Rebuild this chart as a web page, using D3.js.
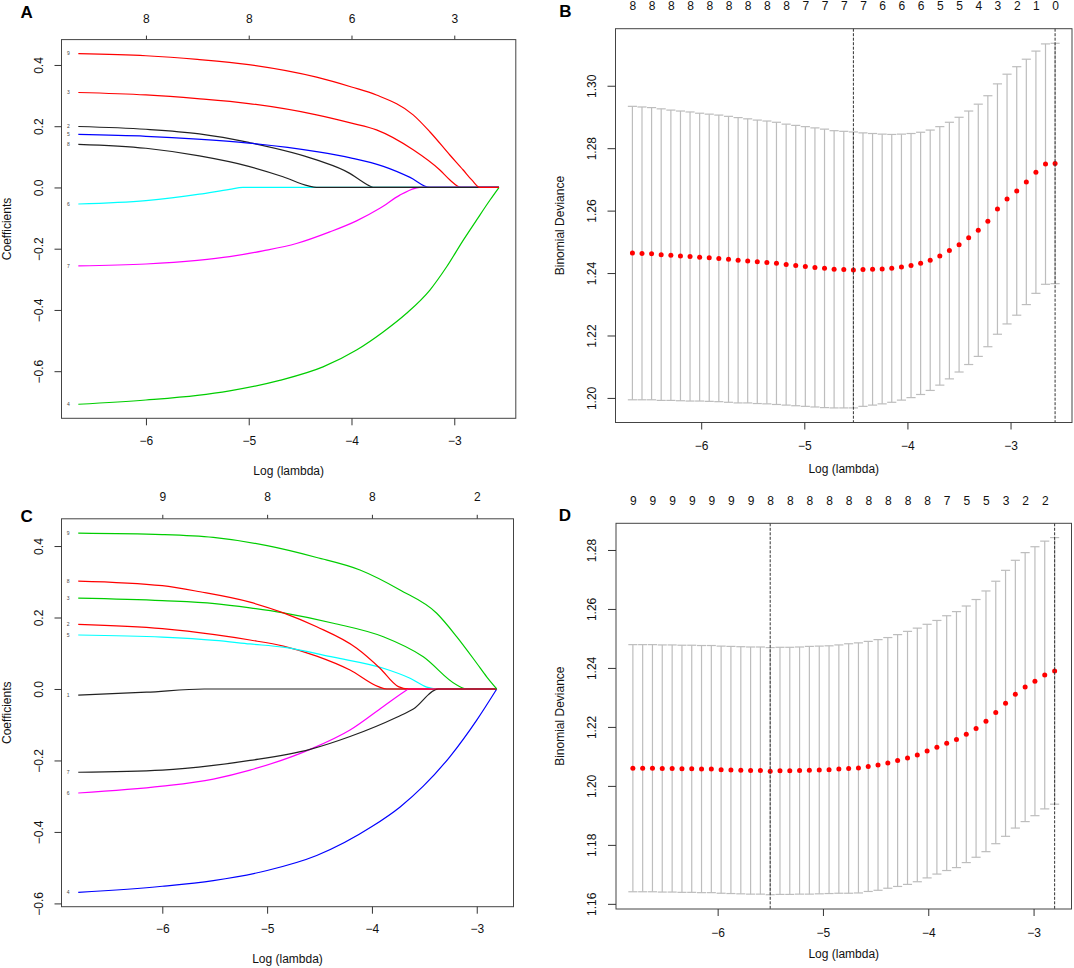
<!DOCTYPE html>
<html>
<head>
<meta charset="utf-8">
<script src="https://cdn.jsdelivr.net/npm/d3@7"></script>
<style>
  body { margin: 0; background: #fff; }
  svg { display: block; }
</style>
</head>
<body>
<svg width="1074" height="968"></svg>
<script>
// ---- Panel A: coefficient paths, [log(lambda), coefficient] ----
const a2 = [[-6.658,0.199],[-6,0.190],[-5.48,0.175],[-5,0.147],[-4.34,0.090],[-4.017,0.046],[-3.919,0.0245],[-3.77,0],[-2.565,0]];
const a3 = [[-6.658,0.310],[-6,0.302],[-5.5,0.290],[-5,0.274],[-4.34,0.237],[-4,0.210],[-3.757,0.188],[-3.4,0.123],[-3.14,0.057],[-3.042,0.0245],[-2.935,0],[-2.565,0]];
const a4 = [[-6.658,-0.708],[-6,-0.694],[-5.5,-0.679],[-5.186,-0.664],[-4.699,-0.630],[-4.277,-0.586],[-3.951,-0.531],[-3.692,-0.472],[-3.464,-0.411],[-3.237,-0.335],[-3.074,-0.259],[-2.912,-0.172],[-2.782,-0.106],[-2.652,-0.041],[-2.565,0]];
const a5 = [[-6.658,0.173],[-6,0.167],[-5.5,0.158],[-5,0.145],[-4.34,0.117],[-4,0.096],[-3.69,0.069],[-3.43,0.033],[-3.237,0],[-2.565,0]];
const a6 = [[-6.658,-0.054],[-6,-0.043],[-5.48,-0.022],[-5.186,-0.006],[-5.056,0],[-2.565,0]];
const a7 = [[-6.658,-0.256],[-6,-0.250],[-5.5,-0.238],[-5.186,-0.226],[-4.862,-0.207],[-4.536,-0.183],[-4.211,-0.145],[-3.951,-0.109],[-3.724,-0.068],[-3.529,-0.025],[-3.383,-0.003],[-3.334,0],[-2.565,0]];
const a8 = [[-6.658,0.141],[-6,0.128],[-5.48,0.103],[-5,0.069],[-4.666,0.035],[-4.42,0.005],[-4.34,0],[-2.565,0]];
const a9 = [[-6.658,0.437],[-6,0.430],[-5.5,0.418],[-5,0.401],[-4.34,0.360],[-4,0.328],[-3.757,0.302],[-3.4,0.237],[-3.238,0.182],[-3.043,0.106],[-2.913,0.057],[-2.83,0.0245],[-2.751,0],[-2.565,0]];
const dfTopA = ["8", "8", "6", "3"];

// ---- Panel B: cross-validation curve ----
const lamB = [-6.667,-6.574,-6.481,-6.388,-6.294,-6.201,-6.108,-6.015,-5.922,-5.829,-5.735,-5.642,-5.549,-5.456,-5.363,-5.270,-5.176,-5.083,-4.990,-4.897,-4.804,-4.711,-4.617,-4.524,-4.431,-4.338,-4.245,-4.152,-4.058,-3.965,-3.872,-3.779,-3.686,-3.593,-3.499,-3.406,-3.313,-3.220,-3.127,-3.034,-2.940,-2.847,-2.754,-2.661,-2.568];
const cvmB = [1.2464,1.2463,1.2462,1.2459,1.2457,1.2455,1.2453,1.2451,1.2449,1.2447,1.2444,1.2441,1.2439,1.2436,1.2434,1.2431,1.2427,1.2424,1.2421,1.2418,1.2415,1.2412,1.2411,1.2410,1.2411,1.2412,1.2413,1.2415,1.2419,1.2424,1.2431,1.2441,1.2455,1.2472,1.2491,1.2513,1.2537,1.2566,1.2605,1.2637,1.2663,1.2692,1.2723,1.2749,1.2751];
const cvsdB = [0.0470,0.0469,0.0468,0.0467,0.0465,0.0464,0.0463,0.0461,0.0460,0.0459,0.0458,0.0457,0.0455,0.0454,0.0453,0.0452,0.0450,0.0449,0.0448,0.0447,0.0446,0.0444,0.0443,0.0442,0.0438,0.0435,0.0432,0.0429,0.0426,0.0423,0.0420,0.0417,0.0414,0.0411,0.0408,0.0406,0.0404,0.0402,0.0401,0.0400,0.0398,0.0393,0.0388,0.0385,0.0385];
const nzeroB = ["8","8","8","8","8","8","8","8","8","7","7","7","7","6","6","6","5","5","4","3","2","1","0"];
const lambdaLinesB = [-4.524, -2.568];

// ---- Panel C: coefficient paths ----
const c1 = [[-6.802,-0.017],[-6.15,-0.009],[-5.6,0],[-2.809,0]];
const c2 = [[-6.802,0.181],[-6,0.169],[-5.5,0.152],[-5.163,0.137],[-4.845,0.120],[-4.527,0.092],[-4.209,0.053],[-3.939,0.0065],[-3.859,0],[-2.809,0]];
const c3 = [[-6.802,0.254],[-6,0.247],[-5.5,0.239],[-5.163,0.227],[-4.845,0.213],[-4.368,0.184],[-3.891,0.146],[-3.51,0.090],[-3.19,0.011],[-3.095,0],[-2.809,0]];
const c4 = [[-6.802,-0.569],[-6,-0.552],[-5.513,-0.536],[-5,-0.508],[-4.527,-0.466],[-4,-0.385],[-3.731,-0.330],[-3.51,-0.272],[-3.255,-0.189],[-3,-0.087],[-2.809,0]];
const c5 = [[-6.802,0.151],[-6,0.145],[-5.5,0.136],[-5.163,0.126],[-4.845,0.117],[-4.368,0.089],[-3.891,0.058],[-3.636,0.030],[-3.477,0.005],[-3.382,0],[-2.809,0]];
const c6 = [[-6.802,-0.291],[-6,-0.272],[-5.513,-0.252],[-5.163,-0.227],[-4.59,-0.169],[-4.209,-0.115],[-3.891,-0.049],[-3.668,-0.003],[-3.652,0],[-2.809,0]];
const c7 = [[-6.802,-0.233],[-6,-0.227],[-5.513,-0.214],[-5.163,-0.200],[-4.59,-0.169],[-4.209,-0.133],[-3.763,-0.079],[-3.605,-0.056],[-3.366,0],[-2.809,0]];
const c8 = [[-6.802,0.302],[-6,0.289],[-5.64,0.272],[-5.163,0.243],[-4.845,0.213],[-4.527,0.174],[-4.145,0.114],[-3.923,0.058],[-3.748,0.0065],[-3.653,0],[-2.809,0]];
const c9 = [[-6.802,0.436],[-6,0.432],[-5.513,0.424],[-5,0.401],[-4.527,0.368],[-4.114,0.333],[-3.732,0.277],[-3.382,0.212],[-3.19,0.146],[-3,0.072],[-2.905,0.034],[-2.809,0]];
const dfTopC = ["9", "8", "8", "2"];

// ---- Panel D: cross-validation curve ----
const lamD = [-6.805,-6.712,-6.619,-6.526,-6.432,-6.339,-6.246,-6.153,-6.060,-5.967,-5.874,-5.780,-5.687,-5.594,-5.501,-5.408,-5.315,-5.222,-5.129,-5.035,-4.942,-4.849,-4.756,-4.663,-4.570,-4.477,-4.384,-4.291,-4.197,-4.104,-4.011,-3.918,-3.825,-3.732,-3.639,-3.546,-3.452,-3.359,-3.266,-3.173,-3.080,-2.987,-2.894,-2.800];
const cvmD = [1.2060,1.2060,1.2060,1.2059,1.2059,1.2058,1.2058,1.2057,1.2057,1.2055,1.2054,1.2053,1.2052,1.2052,1.2050,1.2051,1.2051,1.2052,1.2053,1.2054,1.2055,1.2057,1.2059,1.2061,1.2066,1.2071,1.2078,1.2086,1.2095,1.2105,1.2118,1.2131,1.2145,1.2157,1.2175,1.2195,1.2219,1.2249,1.2280,1.2311,1.2335,1.2355,1.2376,1.2390];
const cvsdD = [0.0419,0.0419,0.0419,0.0419,0.0419,0.0419,0.0419,0.0419,0.0419,0.0419,0.0419,0.0419,0.0419,0.0419,0.0419,0.0419,0.0419,0.0419,0.0420,0.0420,0.0420,0.0421,0.0423,0.0424,0.0424,0.0425,0.0425,0.0427,0.0429,0.0430,0.0430,0.0430,0.0432,0.0434,0.0435,0.0437,0.0442,0.0445,0.0451,0.0454,0.0456,0.0456,0.0454,0.0452];
const nzeroD = ["9","9","9","9","9","9","9","8","8","8","8","8","8","8","8","8","7","5","5","3","2","2"];
const lambdaLinesD = [-5.501, -2.800];

const xTicks = [-6, -5, -4, -3];
const FONT = "'Liberation Sans', Arial, Helvetica, sans-serif";

const svg = d3.select("svg");

// R-style axis range: data range plus 4% each side
function padExtent(vals) {
  const e = d3.extent(vals);
  const r = (e[1] - e[0]) * 0.04;
  return [e[0] - r, e[1] + r];
}

function styleAxis(ax) {
  ax.attr("font-size", 12).attr("font-family", FONT);
  ax.select(".domain").remove();
  ax.selectAll(".tick line").attr("stroke", "#333");
  ax.selectAll(".tick text").attr("fill", "#111");
}

function drawFrame(g, box) {
  g.append("rect")
    .attr("x", box.l).attr("y", box.t)
    .attr("width", box.r - box.l).attr("height", box.b - box.t)
    .attr("fill", "none").attr("stroke", "#444").attr("stroke-width", 1);
}

function drawCommon(g, o, x, y) {
  // bottom axis
  const bx = g.append("g")
    .attr("transform", `translate(0,${o.box.b})`)
    .call(d3.axisBottom(x).tickValues(xTicks).tickFormat(d3.format("d")).tickSize(7));
  styleAxis(bx);
  bx.selectAll(".tick text").attr("y", o.bottomLab).attr("dy", "0.35em");

  // left axis with rotated labels
  const ly = g.append("g")
    .attr("transform", `translate(${o.box.l},0)`)
    .call(d3.axisLeft(y).tickValues(o.yTicks).tickFormat(d3.format(o.yFmt)).tickSize(o.yTick));
  styleAxis(ly);
  ly.selectAll(".tick text")
    .attr("x", 0).attr("dy", "0.35em")
    .attr("text-anchor", "middle")
    .attr("transform", `translate(${-o.yLab},0) rotate(-90)`);

  // titles
  g.append("text")
    .attr("x", (o.box.l + o.box.r) / 2).attr("y", o.box.b + o.xTitle)
    .attr("dy", "0.35em").attr("text-anchor", "middle")
    .attr("font-size", 12).attr("font-family", FONT).attr("fill", "#111")
    .text("Log (lambda)");
  g.append("text")
    .attr("transform", `translate(${o.box.l - o.yTitle},${(o.box.t + o.box.b) / 2}) rotate(-90)`)
    .attr("dy", "0.35em").attr("text-anchor", "middle")
    .attr("font-size", 12).attr("font-family", FONT).attr("fill", "#111")
    .text(o.yName);

  // panel letter
  g.append("text")
    .attr("x", o.letterPos[0]).attr("y", o.letterPos[1])
    .attr("dy", "0.35em").attr("text-anchor", "middle")
    .attr("font-size", 17).attr("font-weight", "bold").attr("font-family", FONT)
    .text(o.letter);
}

function pathPanel(o) {
  const g = svg.append("g");
  const allX = o.vars.flatMap(v => v.pts.map(p => p[0]));
  const allY = o.vars.flatMap(v => v.pts.map(p => p[1]));
  const x = d3.scaleLinear().domain(padExtent(allX)).range([o.box.l, o.box.r]);
  const y = d3.scaleLinear().domain(padExtent(allY)).range([o.box.b, o.box.t]);

  const line = d3.line()
    .x(d => x(d[0]))
    .y(d => y(d[1]))
    .curve(d3.curveMonotoneX);

  g.append("g").selectAll("path")
    .data(o.vars)
    .join("path")
    .attr("d", d => line(d.pts))
    .attr("fill", "none")
    .attr("stroke", d => d.color)
    .attr("stroke-width", 1.2);

  // variable labels at the left end of each path
  g.append("g").selectAll("text")
    .data(o.vars)
    .join("text")
    .attr("x", d => x(d.pts[0][0]) - 10)
    .attr("y", d => y(d.pts[0][1]))
    .attr("dy", "0.35em")
    .attr("text-anchor", "middle")
    .attr("font-size", 5)
    .attr("font-family", FONT)
    .attr("fill", "#444")
    .text(d => d.id);

  // top axis: number of non-zero coefficients
  const tx = g.append("g")
    .attr("transform", `translate(0,${o.box.t})`)
    .call(d3.axisTop(x).tickValues(xTicks).tickSize(4).tickFormat((d, i) => o.df[i]));
  styleAxis(tx);
  tx.selectAll(".tick text").attr("y", -o.topLab).attr("dy", "0.35em");

  drawFrame(g, o.box);
  drawCommon(g, o, x, y);
}

function cvPanel(o) {
  const g = svg.append("g");
  const up = o.cvm.map((m, i) => m + o.cvsd[i]);
  const lo = o.cvm.map((m, i) => m - o.cvsd[i]);
  const x = d3.scaleLinear().domain(padExtent(o.lam)).range([o.box.l, o.box.r]);
  const y = d3.scaleLinear().domain(padExtent(up.concat(lo))).range([o.box.b, o.box.t]);
  const xd = x.domain();
  const capW = (xd[1] - xd[0]) * 0.01;

  const bars = g.append("g")
    .attr("stroke", "#bdbdbd")
    .attr("stroke-width", 1.2);
  bars.selectAll("line.v")
    .data(o.lam)
    .join("line")
    .attr("class", "v")
    .attr("x1", d => x(d)).attr("x2", d => x(d))
    .attr("y1", (d, i) => y(up[i])).attr("y2", (d, i) => y(lo[i]));
  bars.selectAll("line.hi")
    .data(o.lam)
    .join("line")
    .attr("class", "hi")
    .attr("x1", d => x(d - capW)).attr("x2", d => x(d + capW))
    .attr("y1", (d, i) => y(up[i])).attr("y2", (d, i) => y(up[i]));
  bars.selectAll("line.lo")
    .data(o.lam)
    .join("line")
    .attr("class", "lo")
    .attr("x1", d => x(d - capW)).attr("x2", d => x(d + capW))
    .attr("y1", (d, i) => y(lo[i])).attr("y2", (d, i) => y(lo[i]));

  g.append("g").selectAll("circle")
    .data(o.lam)
    .join("circle")
    .attr("cx", d => x(d))
    .attr("cy", (d, i) => y(o.cvm[i]))
    .attr("r", 2.5)
    .attr("fill", "#ff0000");

  // lambda.min and lambda.1se
  g.append("g").selectAll("line")
    .data(o.lines)
    .join("line")
    .attr("x1", d => x(d)).attr("x2", d => x(d))
    .attr("y1", o.box.t).attr("y2", o.box.b)
    .attr("stroke", "#333")
    .attr("stroke-width", 1)
    .attr("stroke-dasharray", "3,1.5");

  // top labels (no tick marks), every second lambda
  const topVals = o.lam.filter((d, i) => i % 2 === 0);
  const tx = g.append("g")
    .attr("transform", `translate(0,${o.box.t})`)
    .call(d3.axisTop(x).tickValues(topVals).tickSize(0).tickFormat((d, i) => o.nzero[i]));
  styleAxis(tx);
  tx.selectAll(".tick text").attr("y", -o.topLab).attr("dy", "0.35em");

  drawFrame(g, o.box);
  drawCommon(g, o, x, y);
}

pathPanel({
  box: { l: 61.5, r: 515.8, t: 39.6, b: 418.3 },
  vars: [
    { id: "2", pts: a2, color: "#222222" },
    { id: "3", pts: a3, color: "#ff0000" },
    { id: "4", pts: a4, color: "#00cd00" },
    { id: "5", pts: a5, color: "#0000ff" },
    { id: "6", pts: a6, color: "#00ffff" },
    { id: "7", pts: a7, color: "#ff00ff" },
    { id: "8", pts: a8, color: "#222222" },
    { id: "9", pts: a9, color: "#ff0000" }
  ],
  df: dfTopA,
  yTicks: [-0.6, -0.4, -0.2, 0, 0.2, 0.4], yFmt: ".1f", yTick: 7,
  topLab: 21.3, bottomLab: 22.2, xTitle: 52, yLab: 23.2, yTitle: 54.5,
  yName: "Coefficients", letter: "A", letterPos: [26.7, 12]
});

cvPanel({
  box: { l: 615.5, r: 1072, t: 28.7, b: 422.5 },
  lam: lamB, cvm: cvmB, cvsd: cvsdB, nzero: nzeroB, lines: lambdaLinesB,
  yTicks: [1.20, 1.22, 1.24, 1.26, 1.28, 1.30], yFmt: ".2f", yTick: 8,
  topLab: 22.7, bottomLab: 23.5, xTitle: 46, yLab: 23.5, yTitle: 55.5,
  yName: "Binomial Deviance", letter: "B", letterPos: [565.5, 10.7]
});

pathPanel({
  box: { l: 61.5, r: 513.5, t: 518.8, b: 906.7 },
  vars: [
    { id: "1", pts: c1, color: "#222222" },
    { id: "2", pts: c2, color: "#ff0000" },
    { id: "3", pts: c3, color: "#00cd00" },
    { id: "4", pts: c4, color: "#0000ff" },
    { id: "5", pts: c5, color: "#00ffff" },
    { id: "6", pts: c6, color: "#ff00ff" },
    { id: "7", pts: c7, color: "#222222" },
    { id: "8", pts: c8, color: "#ff0000" },
    { id: "9", pts: c9, color: "#00cd00" }
  ],
  df: dfTopC,
  yTicks: [-0.6, -0.4, -0.2, 0, 0.2, 0.4], yFmt: ".1f", yTick: 7,
  topLab: 22.1, bottomLab: 22.3, xTitle: 52.3, yLab: 23.2, yTitle: 54.5,
  yName: "Coefficients", letter: "C", letterPos: [26.7, 515.7]
});

cvPanel({
  box: { l: 616, r: 1071.5, t: 523.3, b: 909 },
  lam: lamD, cvm: cvmD, cvsd: cvsdD, nzero: nzeroD, lines: lambdaLinesD,
  yTicks: [1.16, 1.18, 1.20, 1.22, 1.24, 1.26, 1.28], yFmt: ".2f", yTick: 8,
  topLab: 22.6, bottomLab: 23.3, xTitle: 45, yLab: 24, yTitle: 56,
  yName: "Binomial Deviance", letter: "D", letterPos: [565, 515]
});
</script>
</body>
</html>
